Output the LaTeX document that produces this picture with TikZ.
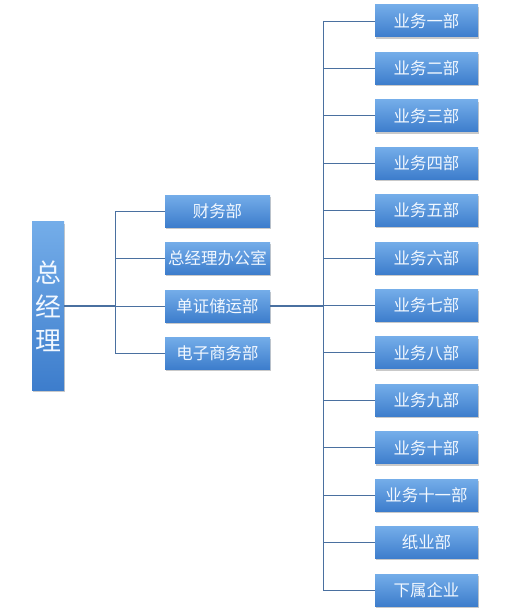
\documentclass[tikz,border=0pt]{standalone}
\usepackage{fontspec}
\setmainfont{Noto Sans CJK SC}
\usetikzlibrary{shadows}
\definecolor{boxtop}{HTML}{74ADE9}
\definecolor{boxbot}{HTML}{3D7DCC}
\definecolor{linec}{HTML}{4A70A0}
\definecolor{txtc}{HTML}{F2F8FF}
\tikzset{
  unitbox/.style={rectangle, inner sep=0pt, top color=boxtop, bottom color=boxbot,
    draw=none, text=txtc, font=\fontsize{16.5}{20}\selectfont,
    drop shadow={opacity=0.35, shadow xshift=1.2pt, shadow yshift=-1.8pt, fill=black!60}},
  rbox/.style={unitbox, minimum width=103bp, minimum height=32bp},
  mbox/.style={unitbox, minimum width=105bp, minimum height=32bp},
  conn/.style={draw=linec, line width=0.9bp},
  thick conn/.style={draw=linec, line width=1.8bp}
}
\begin{document}
\begin{tikzpicture}[x=1bp,y=-1bp]
\useasboundingbox[fill=white] (0,0) rectangle (509,614);
% top manager
\node[unitbox, minimum width=32bp, minimum height=168bp, font=\fontsize{26}{34}\selectfont, align=center] (gm) at (48,306) {总\\经\\理};
% middle
\node[mbox] (m1) at (217.5,211) {财务部};
\node[mbox] (m2) at (217.5,258) {总经理办公室};
\node[mbox] (m3) at (217.5,306) {单证储运部};
\node[mbox] (m4) at (217.5,353) {电子商务部};
\coordinate (mt1) at (115,211);
\coordinate (mt4) at (115,353);
\coordinate (mtc) at (115,306);
\draw[conn] (mt1) -- (mt4);
\draw[thick conn] (gm.east) -- (mtc);
\foreach \i in {1,2,3,4} {
  \draw[conn] (m\i.west -| mtc) -- (m\i.west);
}
% right
\foreach \t [count=\i] in {业务一部,业务二部,业务三部,业务四部,业务五部,业务六部,业务七部,业务八部,业务九部,业务十部,业务十一部,纸业部,下属企业} {
  \node[rbox] (r\i) at (426.5,{21+(\i-1)*47.42}) {\t};
}
\coordinate (rt1) at (323,21);
\coordinate (rt13) at (323,590);
\draw[conn] (rt1) -- (rt13);
\foreach \i in {1,...,13} {
  \draw[conn] (r\i.west -| rt1) -- (r\i.west);
}
\draw[thick conn] (m3.east) -- (m3.east -| rt1);
\end{tikzpicture}
\end{document}
